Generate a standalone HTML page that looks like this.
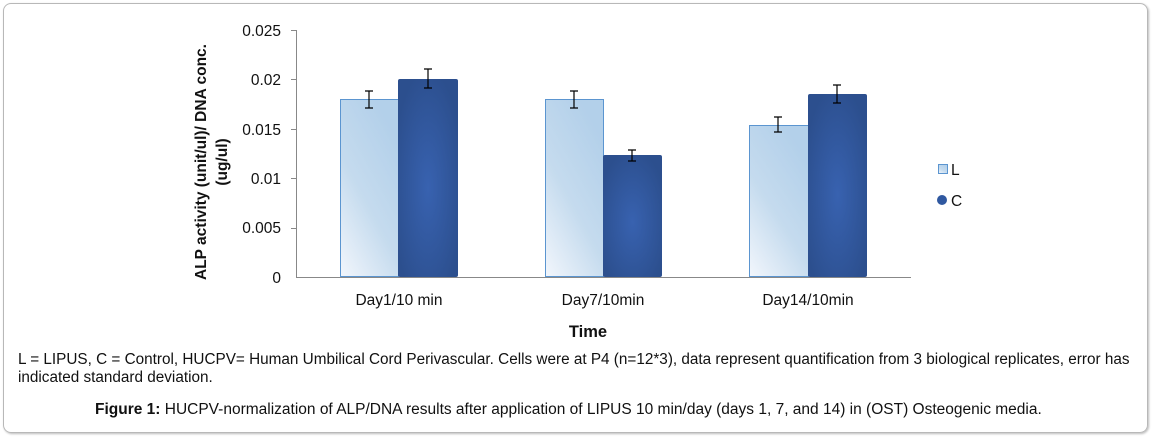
<!DOCTYPE html>
<html><head><style>
body{margin:0;background:#fff;width:1152px;height:437px;overflow:hidden;font-family:"Liberation Sans",Arial,sans-serif}
.frame{position:absolute;left:3px;top:3px;width:1143px;height:428px;border:1px solid #b8b8b8;border-radius:8px;box-shadow:1px 1px 2px #bbb}
.t{position:absolute;font-size:15.3px;color:#111;white-space:nowrap}
</style></head><body>
<div class="frame"></div>
<svg width="1152" height="437" style="position:absolute;left:0;top:0">
<defs>
<linearGradient id="gL" x1="0" y1="1" x2="0.6" y2="0">
<stop offset="0" stop-color="#f2f6fc"/><stop offset="0.5" stop-color="#c5dbee"/><stop offset="1" stop-color="#b3d0ea"/>
</linearGradient>
<radialGradient id="gC" cx="0.5" cy="0.55" r="0.6">
<stop offset="0" stop-color="#3862b0"/><stop offset="1" stop-color="#2c4f8e"/>
</radialGradient>
</defs>
<g font-family="Liberation Sans,Arial,sans-serif" font-size="15.5" fill="#111" text-anchor="end">
<text x="281" y="36">0.025</text><text x="281" y="85">0.02</text><text x="281" y="135">0.015</text>
<text x="281" y="184">0.01</text><text x="281" y="233">0.005</text><text x="281" y="283">0</text>
</g>
<g stroke="#888" stroke-width="1">
<line x1="296.5" y1="30" x2="296.5" y2="277"/>
<line x1="296" y1="277.5" x2="911" y2="277.5"/>
<line x1="291" y1="30.5" x2="296" y2="30.5"/><line x1="291" y1="79.5" x2="296" y2="79.5"/>
<line x1="291" y1="129.5" x2="296" y2="129.5"/><line x1="291" y1="178.5" x2="296" y2="178.5"/>
<line x1="291" y1="228.5" x2="296" y2="228.5"/>
</g>
<g stroke="#5b95d0" stroke-width="1" fill="url(#gL)">
<rect x="340.5" y="99.5" width="58" height="177"/>
<rect x="545.5" y="99.5" width="58" height="177"/>
<rect x="749.5" y="125.5" width="59" height="151"/>
</g>
<g fill="url(#gC)">
<rect x="398" y="79" width="60" height="198" rx="2"/>
<rect x="603" y="155" width="59" height="122" rx="2"/>
<rect x="808" y="94" width="59" height="183" rx="2"/>
</g>
<g stroke="#000" stroke-width="1.2" fill="none">
<path d="M369 91V108M365 91H373M365 108H373"/>
<path d="M428 69V88M424 69H432M424 88H432"/>
<path d="M574 91V108M570 91H578M570 108H578"/>
<path d="M632 150V161M628 150H636M628 161H636"/>
<path d="M778 117V132M774 117H782M774 132H782"/>
<path d="M837 85V103M833 85H841M833 103H841"/>
</g>
<rect x="938.5" y="164.5" width="9" height="9" fill="url(#gL)" stroke="#5b95d0"/>
<circle cx="942" cy="200" r="5" fill="#2f58a0"/>
<g font-family="Liberation Sans,Arial,sans-serif" font-size="15.5" fill="#111">
<text x="951" y="175">L</text><text x="951" y="206">C</text>
<text x="399" y="305" text-anchor="middle">Day1/10 min</text><text x="603" y="305" text-anchor="middle">Day7/10min</text><text x="808" y="305" text-anchor="middle">Day14/10min</text>
<text x="588" y="337" font-weight="bold" font-size="16.5" text-anchor="middle">Time</text>
<text transform="translate(206,162) rotate(-90)" text-anchor="middle" font-weight="bold" font-size="15.5">ALP activity (unit/ul)/ DNA conc.</text>
<text transform="translate(227,162) rotate(-90)" text-anchor="middle" font-weight="bold" font-size="15.5">(ug/ul)</text>
</g>
</svg>
<div class="t" style="left:18px;top:351px">L = LIPUS, C = Control, HUCPV= Human Umbilical Cord Perivascular. Cells were at P4 (n=12*3), data represent quantification from 3 biological replicates, error has</div>
<div class="t" style="left:18px;top:369px">indicated standard deviation.</div>
<div class="t" style="left:95px;top:401px;font-size:15.5px"><b>Figure 1:</b> HUCPV-normalization of ALP/DNA results after application of LIPUS 10 min/day (days 1, 7, and 14) in (OST) Osteogenic media.</div>
</body></html>
